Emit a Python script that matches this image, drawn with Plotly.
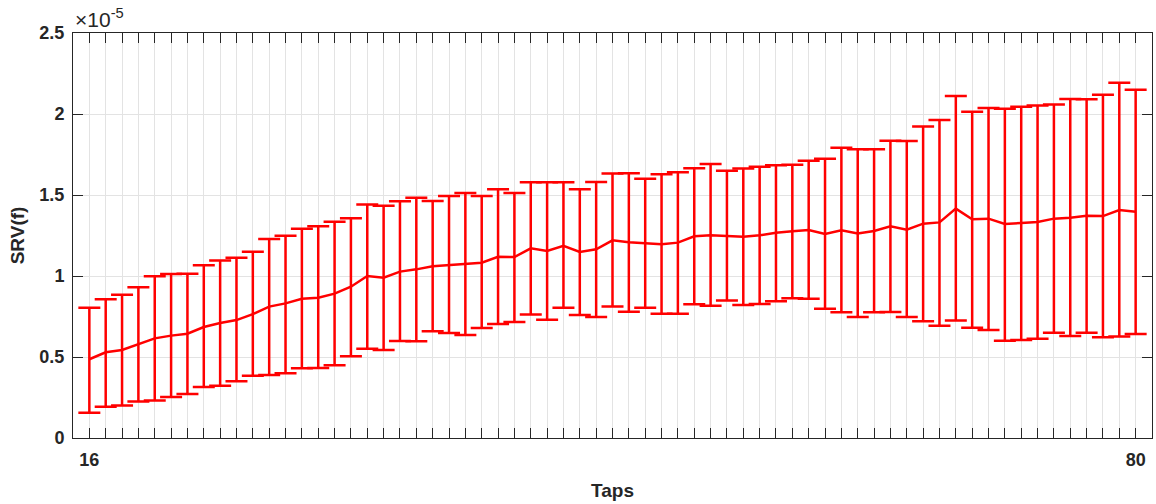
import plotly.graph_objects as go

# Filter length (number of taps)
taps = list(range(16, 81))

# SRV(f) mean and spread bounds, in units of 1e-5
srv_mean = [
    0.486, 0.529, 0.543, 0.580, 0.615, 0.632, 0.644, 0.685, 0.710, 0.728,
    0.765, 0.811, 0.831, 0.860, 0.866, 0.891, 0.934, 1.000, 0.990, 1.027,
    1.041, 1.060, 1.068, 1.072, 1.082, 1.119, 1.117, 1.171, 1.154, 1.187,
    1.148, 1.165, 1.220, 1.208, 1.202, 1.196, 1.206, 1.245, 1.251, 1.249,
    1.243, 1.251, 1.267, 1.276, 1.284, 1.259, 1.282, 1.263, 1.278, 1.307,
    1.286, 1.323, 1.331, 1.416, 1.350, 1.354, 1.321, 1.327, 1.333, 1.354,
    1.360, 1.372, 1.370, 1.407, 1.397,
]
srv_upper = [
    0.804, 0.856, 0.885, 0.930, 0.998, 1.012, 1.014, 1.066, 1.095, 1.113,
    1.150, 1.228, 1.249, 1.291, 1.307, 1.335, 1.356, 1.442, 1.434, 1.461,
    1.483, 1.463, 1.494, 1.512, 1.494, 1.536, 1.512, 1.578, 1.578, 1.578,
    1.535, 1.580, 1.632, 1.634, 1.601, 1.628, 1.640, 1.665, 1.691, 1.650,
    1.663, 1.675, 1.683, 1.687, 1.712, 1.724, 1.792, 1.782, 1.782, 1.835,
    1.833, 1.923, 1.963, 2.111, 2.014, 2.037, 2.033, 2.045, 2.053, 2.058,
    2.093, 2.091, 2.119, 2.193, 2.150,
]
srv_lower = [
    0.156, 0.193, 0.200, 0.226, 0.232, 0.253, 0.272, 0.315, 0.323, 0.350,
    0.385, 0.389, 0.399, 0.430, 0.432, 0.449, 0.504, 0.551, 0.543, 0.599,
    0.597, 0.659, 0.648, 0.636, 0.679, 0.704, 0.716, 0.763, 0.730, 0.804,
    0.759, 0.747, 0.811, 0.780, 0.804, 0.767, 0.767, 0.825, 0.817, 0.848,
    0.821, 0.827, 0.844, 0.862, 0.860, 0.798, 0.776, 0.747, 0.776, 0.778,
    0.747, 0.721, 0.693, 0.726, 0.681, 0.667, 0.601, 0.605, 0.613, 0.650,
    0.630, 0.650, 0.622, 0.626, 0.642,
]

y_ticks = [0, 0.5, 1, 1.5, 2, 2.5]
y_tick_labels = ["0", "0.5", "1", "1.5", "2", "2.5"]
x_ticks = [16, 80]
x_tick_labels = ["16", "80"]

SCALE = 1e-5
RED = "#FF0000"
AXIS = "#262626"
GRID = "#e3e3e3"
FONT = "Liberation Sans, Arial, Helvetica, sans-serif"

mean_v = [m * SCALE for m in srv_mean]
err_plus = [(u - m) * SCALE for u, m in zip(srv_upper, srv_mean)]
err_minus = [(m - l) * SCALE for m, l in zip(srv_mean, srv_lower)]

fig = go.Figure()
fig.add_trace(go.Scatter(
    x=taps,
    y=mean_v,
    mode="lines",
    line=dict(color=RED, width=2.5),
    error_y=dict(
        type="data",
        symmetric=False,
        array=err_plus,
        arrayminus=err_minus,
        color=RED,
        thickness=2.5,
        width=11,
    ),
    showlegend=False,
))

fig.update_layout(
    width=1156,
    height=504,
    margin=dict(l=73, r=4, t=33, b=66),
    paper_bgcolor="white",
    plot_bgcolor="white",
    font=dict(family=FONT, color=AXIS),
    xaxis=dict(
        title=dict(
            text="Taps",
            standoff=15,
            font=dict(size=19, family=FONT, color=AXIS, weight="bold"),
        ),
        range=[15, 81],
        tickmode="array",
        tickvals=x_ticks,
        ticktext=x_tick_labels,
        ticks="inside",
        ticklen=10,
        tickcolor=AXIS,
        tickwidth=1,
        showgrid=True,
        gridcolor=GRID,
        gridwidth=1,
        minor=dict(
            tick0=15, dtick=1,
            ticks="inside", ticklen=10, tickcolor=AXIS, tickwidth=1,
            showgrid=True, gridcolor=GRID, gridwidth=1,
        ),
        showline=True,
        linecolor=AXIS,
        linewidth=1,
        mirror="ticks",
        zeroline=False,
        tickfont=dict(size=18, family=FONT, color=AXIS, weight="bold"),
        ticklabelstandoff=5,
    ),
    yaxis=dict(
        title=dict(
            text="SRV(f)",
            standoff=9,
            font=dict(size=19, family=FONT, color=AXIS, weight="bold"),
        ),
        range=[0, 2.5 * SCALE],
        tickmode="array",
        tickvals=[t * SCALE for t in y_ticks],
        ticktext=y_tick_labels,
        ticks="inside",
        ticklen=10,
        tickcolor=AXIS,
        tickwidth=1,
        showgrid=True,
        gridcolor=GRID,
        gridwidth=1,
        showline=True,
        linecolor=AXIS,
        linewidth=1,
        mirror="ticks",
        zeroline=False,
        tickfont=dict(size=18, family=FONT, color=AXIS, weight="bold"),
        ticklabelstandoff=4,
    ),
    annotations=[
        dict(
            text="×10<sup>-5</sup>",
            xref="paper", yref="paper",
            x=0.0, y=1.0, xanchor="left", yanchor="bottom",
            showarrow=False,
            font=dict(size=21, family=FONT, color=AXIS),
        ),
    ],
)

fig.write_html("out.html")
